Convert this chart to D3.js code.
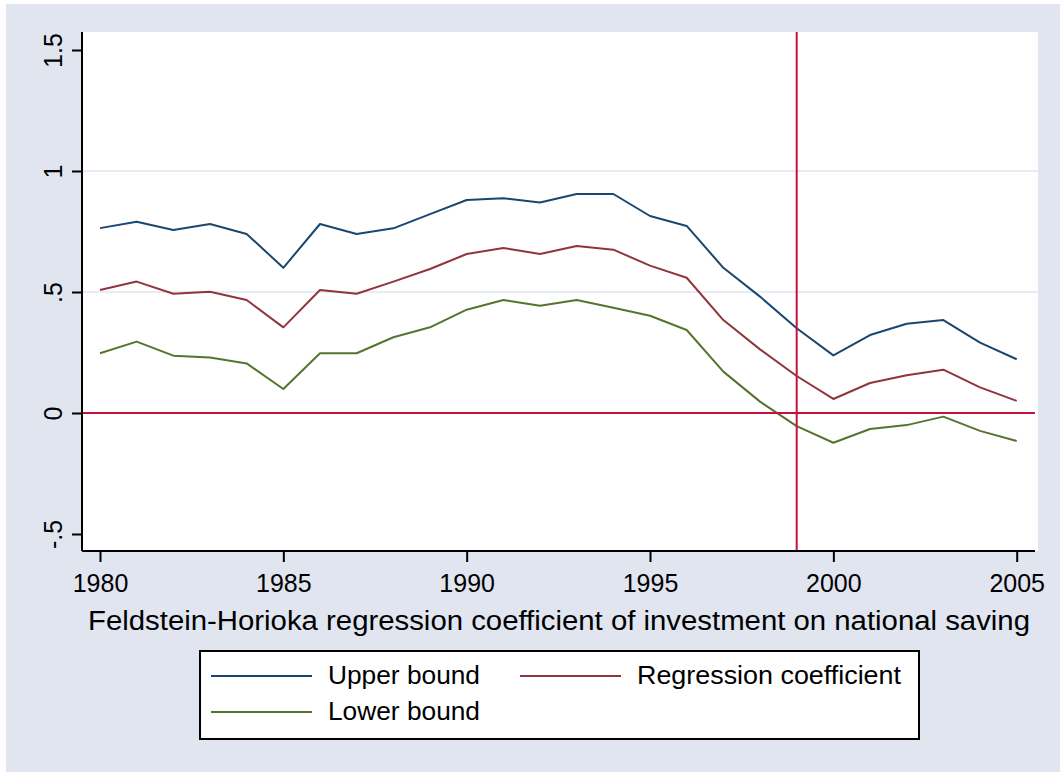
<html>
<head>
<meta charset="UTF-8">
<title>Feldstein-Horioka</title>
<style>
body { margin: 0; background: #fff; }
text { font-family: "Liberation Sans", Arial, sans-serif; fill: #000; }
.grid line { stroke: #dfe5f2; stroke-width: 1.5; }
.series { fill: none; stroke-width: 2; stroke-linejoin: round; }
</style>
<script src="https://d3js.org/d3.v7.min.js"></script>
</head>
<body>
<div id="chart"></div>
<script>
// values
var years = d3.range(1980, 2006);
var upper = [0.764, 0.790, 0.756, 0.781, 0.740, 0.600, 0.781, 0.740, 0.763, 0.822,
             0.880, 0.887, 0.870, 0.905, 0.905, 0.814, 0.773, 0.600, 0.481, 0.350,
             0.238, 0.322, 0.369, 0.384, 0.291, 0.222];
var coef  = [0.508, 0.543, 0.493, 0.501, 0.467, 0.354, 0.508, 0.493, 0.543, 0.595,
             0.657, 0.682, 0.657, 0.690, 0.675, 0.609, 0.559, 0.384, 0.263, 0.153,
             0.058, 0.124, 0.156, 0.179, 0.106, 0.050];
var lower = [0.247, 0.295, 0.237, 0.229, 0.205, 0.099, 0.247, 0.247, 0.313, 0.354,
             0.427, 0.467, 0.443, 0.467, 0.435, 0.402, 0.343, 0.171, 0.047, -0.054,
             -0.123, -0.066, -0.050, -0.015, -0.074, -0.116];
var xTicks = [1980, 1985, 1990, 1995, 2000, 2005];
var yTicks = [-0.5, 0, 0.5, 1, 1.5];
var yTickLabels = ["-.5", "0", ".5", "1", "1.5"];
var gridTicks = [0.5, 1];
var vLineYear = 1999;
var xTitle = "Feldstein-Horioka regression coefficient of investment on national saving";
var legendItems = [
  {name: "Upper bound", color: "#1a476f", col: 0, row: 0, w: 152},
  {name: "Regression coefficient", color: "#90353b", col: 1, row: 0, w: 264},
  {name: "Lower bound", color: "#55752f", col: 0, row: 1, w: 152}
];

var width = 1060, height = 772;
var plot = {left: 82, right: 1038, top: 32, bottom: 551};

var svg = d3.select("#chart").append("svg")
    .attr("width", width)
    .attr("height", height);

svg.append("rect")
    .attr("x", 6).attr("y", 4)
    .attr("width", width - 6).attr("height", height - 4)
    .attr("fill", "#e1e5f0");

svg.append("rect")
    .attr("x", plot.left).attr("y", plot.top)
    .attr("width", plot.right - plot.left).attr("height", plot.bottom - plot.top)
    .attr("fill", "#fff");

var x = d3.scaleLinear().domain([1980, 2005]).range([100, 1016.7]);
var y = d3.scaleLinear().domain([0, 0.5]).range([413, 292]);

// gridlines
svg.append("g").attr("class", "grid")
  .selectAll("line")
  .data(gridTicks)
  .enter().append("line")
    .attr("x1", plot.left).attr("x2", plot.right)
    .attr("y1", function(d){ return y(d); })
    .attr("y2", function(d){ return y(d); });

// series
var line = d3.line()
    .x(function(d){ return x(d[0]); })
    .y(function(d){ return y(d[1]); });

[[upper, "#1a476f"], [coef, "#90353b"], [lower, "#55752f"]].forEach(function(s){
  svg.append("path")
      .datum(years.map(function(yr, i){ return [yr, s[0][i]]; }))
      .attr("class", "series")
      .attr("stroke", s[1])
      .attr("d", line);
});

// reference lines
svg.append("line")
    .attr("x1", plot.left).attr("x2", plot.right - 3)
    .attr("y1", y(0)).attr("y2", y(0))
    .attr("stroke", "#c8103e").attr("stroke-width", 2);
svg.append("line")
    .attr("x1", x(vLineYear)).attr("x2", x(vLineYear))
    .attr("y1", plot.top).attr("y2", plot.bottom)
    .attr("stroke", "#c8103e").attr("stroke-width", 2);

// y axis
var yAxis = d3.axisLeft(y)
    .tickValues(yTicks)
    .tickSize(10)
    .tickPadding(10)
    .tickFormat(function(d, i){ return yTickLabels[i]; });
var gy = svg.append("g")
    .attr("transform", "translate(" + plot.left + ",0)")
    .call(yAxis);
gy.select(".domain").attr("d", "M0," + plot.top + "V" + plot.bottom)
    .attr("stroke", "#000").attr("stroke-width", 2);
gy.selectAll(".tick line").attr("stroke", "#000").attr("stroke-width", 2);
gy.selectAll(".tick text")
    .attr("x", null).attr("dy", null)
    .attr("transform", "translate(-20,0) rotate(-90)")
    .attr("text-anchor", "middle")
    .style("font-size", "25px");

// x axis
var xAxis = d3.axisBottom(x)
    .tickValues(xTicks)
    .tickSize(11)
    .tickFormat(d3.format("d"));
var gx = svg.append("g")
    .attr("transform", "translate(0," + plot.bottom + ")")
    .call(xAxis);
gx.select(".domain").attr("d", "M" + plot.left + ",0H" + (plot.right - 3))
    .attr("stroke", "#000").attr("stroke-width", 2);
gx.selectAll(".tick line").attr("stroke", "#000").attr("stroke-width", 2);
gx.selectAll(".tick text")
    .attr("y", 41).attr("dy", null)
    .style("font-size", "25px");

svg.append("text")
    .attr("x", 559)
    .attr("y", 630)
    .attr("text-anchor", "middle")
    .attr("textLength", 942)
    .attr("lengthAdjust", "spacingAndGlyphs")
    .style("font-size", "27px")
    .text(xTitle);

// legend
var lg = svg.append("g");
lg.append("rect")
    .attr("x", 200).attr("y", 651)
    .attr("width", 719).attr("height", 88)
    .attr("fill", "#fff").attr("stroke", "#000").attr("stroke-width", 2);
var items = lg.selectAll(".item")
    .data(legendItems)
    .enter().append("g")
    .attr("transform", function(d){
      return "translate(" + (211 + d.col * 309) + "," + (676 + d.row * 36) + ")";
    });
items.append("line")
    .attr("x1", 0).attr("x2", 101)
    .attr("stroke", function(d){ return d.color; })
    .attr("stroke-width", 2);
items.append("text")
    .attr("x", 117).attr("y", 8)
    .attr("textLength", function(d){ return d.w; })
    .attr("lengthAdjust", "spacingAndGlyphs")
    .style("font-size", "25px")
    .text(function(d){ return d.name; });
</script>
</body>
</html>
